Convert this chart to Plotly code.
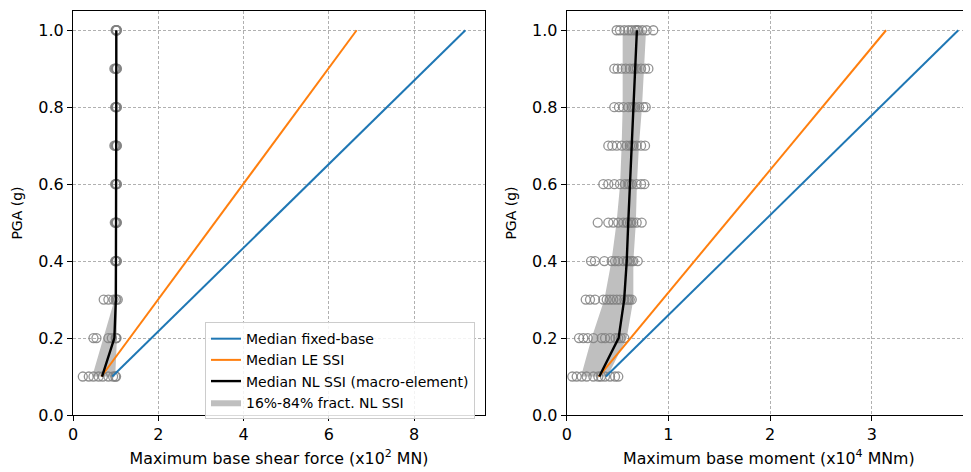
import plotly.graph_objects as go

# ---------------- data ----------------
pga = [0.1, 0.2, 0.3, 0.4, 0.5, 0.6, 0.7, 0.8, 0.9, 1.0]

# Left panel: maximum base shear force (x10^2 MN)
shear_fixed = [0.92, 1.84, 2.76, 3.68, 4.60, 5.52, 6.44, 7.36, 8.28, 9.20]
shear_le = [0.665, 1.33, 1.995, 2.66, 3.325, 3.99, 4.655, 5.32, 5.985, 6.65]
shear_nl = [0.68, 0.97, 1.005, 1.01, 1.01, 1.01, 1.01, 1.015, 1.015, 1.015]
shear_p16 = [0.45, 0.72, 0.975, 0.985, 0.99, 0.99, 0.99, 0.99, 1.00, 1.00]
shear_p84 = [0.99, 1.03, 1.035, 1.035, 1.035, 1.035, 1.035, 1.035, 1.035, 1.035]
shear_records = [
    [0.23, 0.37, 0.48, 0.60, 0.70, 0.83, 0.94, 0.99, 1.01],
    [0.48, 0.55, 0.83, 0.91, 1.00, 1.01, 1.02],
    [0.72, 0.83, 0.95, 1.00, 1.02, 1.05],
    [0.99, 1.00, 1.01, 1.02, 1.03],
    [0.98, 1.00, 1.01, 1.02, 1.03],
    [0.99, 1.00, 1.01, 1.02, 1.03],
    [0.97, 0.99, 1.01, 1.02, 1.03],
    [0.99, 1.00, 1.01, 1.02, 1.03],
    [0.97, 0.99, 1.01, 1.02, 1.03],
    [1.00, 1.01, 1.02, 1.02, 1.03],
]

# Right panel: maximum base moment (x10^4 MNm)
moment_fixed = [0.385, 0.77, 1.155, 1.54, 1.925, 2.31, 2.695, 3.08, 3.465, 3.85]
moment_le = [0.314, 0.628, 0.942, 1.256, 1.57, 1.884, 2.198, 2.512, 2.826, 3.14]
moment_nl = [0.32, 0.51, 0.565, 0.59, 0.605, 0.622, 0.639, 0.656, 0.673, 0.69]
moment_p16 = [0.14, 0.245, 0.37, 0.44, 0.49, 0.525, 0.54, 0.55, 0.55, 0.55]
moment_p84 = [0.40, 0.59, 0.655, 0.655, 0.68, 0.69, 0.71, 0.74, 0.76, 0.78]
moment_records = [
    [0.055, 0.098, 0.147, 0.196, 0.262, 0.311, 0.337, 0.376, 0.426, 0.475, 0.507],
    [0.121, 0.163, 0.206, 0.262, 0.344, 0.377, 0.426, 0.48, 0.507, 0.53, 0.566],
    [0.187, 0.229, 0.278, 0.36, 0.393, 0.426, 0.458, 0.492, 0.524, 0.566, 0.59, 0.606, 0.62, 0.639],
    [0.239, 0.278, 0.37, 0.442, 0.475, 0.507, 0.557, 0.59, 0.60, 0.622, 0.64, 0.655, 0.698],
    [0.305, 0.409, 0.458, 0.507, 0.557, 0.59, 0.60, 0.622, 0.635, 0.655, 0.688, 0.737],
    [0.36, 0.409, 0.468, 0.524, 0.573, 0.606, 0.62, 0.639, 0.688, 0.731, 0.763],
    [0.409, 0.448, 0.492, 0.541, 0.59, 0.622, 0.64, 0.655, 0.688, 0.731, 0.77],
    [0.468, 0.514, 0.557, 0.606, 0.639, 0.655, 0.672, 0.711, 0.753, 0.777],
    [0.468, 0.501, 0.541, 0.58, 0.622, 0.655, 0.67, 0.688, 0.731, 0.77, 0.803],
    [0.491, 0.524, 0.566, 0.606, 0.639, 0.672, 0.69, 0.704, 0.743, 0.786, 0.851],
]

x_ticks_shear = [0, 2, 4, 6, 8]
x_ticks_moment = [0, 1, 2, 3, 4]
y_ticks = [0.0, 0.2, 0.4, 0.6, 0.8, 1.0]

# ---------------- styles ----------------
BLUE = "#1f77b4"
ORANGE = "#ff7f0e"
BAND = "#bfbfbf"
FONT = "DejaVu Sans"

fig = go.Figure()


def add_panel(xa, ya, fixed, le, nl, p16, p84, records, show_legend):
    # percentile band
    fig.add_trace(go.Scatter(
        x=p16 + p84[::-1], y=pga + pga[::-1], fill="toself",
        fillcolor=BAND, line=dict(width=0, color=BAND), mode="lines",
        name="16%-84% fract. NL SSI", legendrank=4,
        showlegend=show_legend, xaxis=xa, yaxis=ya, hoverinfo="skip"))
    # individual records
    rx, ry = [], []
    for level, vals in zip(pga, records):
        rx.extend(vals)
        ry.extend([level] * len(vals))
    fig.add_trace(go.Scatter(
        x=rx, y=ry, mode="markers",
        marker=dict(symbol="circle-open", size=9,
                    color="rgba(128,128,128,0.85)",
                    line=dict(width=1.3)),
        showlegend=False, xaxis=xa, yaxis=ya))
    fig.add_trace(go.Scatter(
        x=fixed, y=pga, mode="lines", line=dict(color=BLUE, width=2),
        name="Median fixed-base", legendrank=1, showlegend=show_legend,
        xaxis=xa, yaxis=ya))
    fig.add_trace(go.Scatter(
        x=le, y=pga, mode="lines", line=dict(color=ORANGE, width=2),
        name="Median LE SSI", legendrank=2, showlegend=show_legend,
        xaxis=xa, yaxis=ya))
    fig.add_trace(go.Scatter(
        x=nl, y=pga, mode="lines", line=dict(color="black", width=2.4),
        name="Median NL SSI (macro-element)", legendrank=3,
        showlegend=show_legend, xaxis=xa, yaxis=ya))


add_panel("x", "y", shear_fixed, shear_le, shear_nl, shear_p16, shear_p84,
          shear_records, True)
add_panel("x2", "y2", moment_fixed, moment_le, moment_nl, moment_p16,
          moment_p84, moment_records, False)

axis_common = dict(
    showline=True, linecolor="black", linewidth=1.1,
    ticks="outside", ticklen=5, tickwidth=1.1, tickcolor="black",
    showgrid=True, gridcolor="#b0b0b0", gridwidth=0.8, griddash="3px,2px",
    zeroline=False, tickfont=dict(family=FONT, size=16, color="black"),
)

# page body adds an 8px offset, so the figure is 8px smaller and margins shifted
fig.update_layout(
    width=963, height=464,
    margin=dict(l=65, r=0, t=3, b=57),
    paper_bgcolor="white", plot_bgcolor="white",
    font=dict(family=FONT, color="black"),
    xaxis=dict(domain=[0, 0.4588], range=[0, 9.66], tickvals=x_ticks_shear,
               mirror=True, anchor="y",
               title=dict(text="Maximum base shear force (x10<sup>2</sup> MN)",
                          font=dict(size=15.8), standoff=9),
               **axis_common),
    yaxis=dict(domain=[0, 1], range=[0, 1.05], tickvals=y_ticks,
               tickformat=".1f", mirror=True, anchor="x",
               title=dict(text="PGA (g)", font=dict(size=14), standoff=12),
               **axis_common),
    xaxis2=dict(domain=[0.5498, 1], range=[0, 3.975], tickvals=x_ticks_moment,
                mirror=True, anchor="y2",
                title=dict(text="Maximum base moment (x10<sup>4</sup> MNm)",
                           font=dict(size=15.8), standoff=9),
                **axis_common),
    yaxis2=dict(domain=[0, 1], range=[0, 1.05], tickvals=y_ticks,
                tickformat=".1f", mirror=False, anchor="x2",
                title=dict(text="PGA (g)", font=dict(size=14), standoff=12),
                **axis_common),
    legend=dict(x=0.147, y=0.23, xanchor="left", yanchor="top",
                bgcolor="rgba(255,255,255,0.85)", bordercolor="#cccccc",
                borderwidth=1, font=dict(family=FONT, size=14),
                tracegroupgap=0, itemwidth=30),
    showlegend=True,
)

fig.write_html("out.html")
